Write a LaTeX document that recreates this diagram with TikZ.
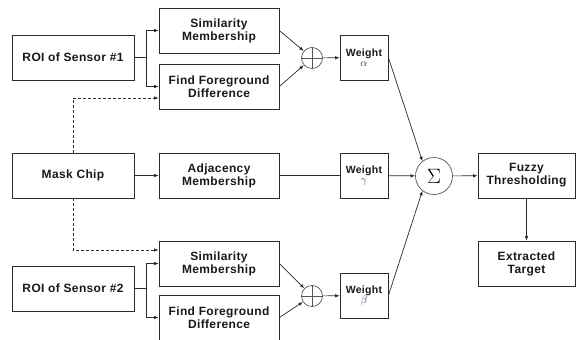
\documentclass[tikz,border=0pt]{standalone}
\usepackage{fontspec}
\setmainfont{Liberation Sans}[LetterSpace=3]
\usetikzlibrary{arrows.meta}
\definecolor{ln}{HTML}{2A2A2A}
\definecolor{cl}{HTML}{555555}
\definecolor{gkc}{HTML}{3A3A50}
\tikzset{
  box/.style={draw=ln, line width=0.8pt, minimum height=45pt, inner sep=1pt, align=center,
    font=\fontsize{12}{13}\selectfont\bfseries, text=black!90},
  bigbox/.style={box, minimum width=122pt},
  midbox/.style={box, minimum width=120pt},
  wbox/.style={box, minimum width=48pt, font=\fontsize{10.5}{11}\selectfont\bfseries},
  fbox/.style={box, minimum width=97pt},
  opl/.style={circle, draw=cl, line width=0.7pt, minimum size=21pt, inner sep=0pt},
  sg/.style={circle, draw=cl, line width=0.7pt, minimum size=37pt, inner sep=0pt},
  arr/.style={draw=ln, line width=0.7pt, -{Latex[length=4.5pt,width=3.5pt]}},
  ln/.style={draw=ln, line width=0.7pt},
  dsh/.style={arr, dashed, dash pattern=on 3pt off 2pt}
}
\newcommand{\gk}[1]{{\normalfont\fontsize{11}{11}\selectfont\color{gkc}$#1$}}
\begin{document}
\begin{tikzpicture}[x=1pt, y=-1pt]
\useasboundingbox (0,0) rectangle (581,340);
\node[bigbox] (roi1) at (73,57.5) {ROI of Sensor \#1};
\node[midbox] (sim1) at (219,30.5) {Similarity\\Membership};
\node[midbox] (ffg1) at (219,86.5) {Find Foreground\\Difference};
\node[bigbox] (mask) at (73,175.5) {Mask Chip};
\node[midbox] (adj) at (219,175.5) {Adjacency\\Membership};
\node[midbox] (sim2) at (219,263.5) {Similarity\\Membership};
\node[bigbox] (roi2) at (73,288.5) {ROI of Sensor \#2};
\node[midbox] (ffg2) at (219,317.5) {Find Foreground\\Difference};
\node[wbox] (wa) at (364,57.5) {Weight\\[-1pt]\gk{\alpha}};
\node[wbox] (wg) at (364,175.5) {Weight\\[-1pt]\gk{\gamma}};
\node[wbox] (wb) at (364,295.5) {Weight\\[-1pt]\gk{\beta}};
\node[opl] (op1) at (312,58) {};
\node[opl] (op2) at (312,296) {};
\draw[cl, line width=0.7pt] (op1.north) -- (op1.south) (op1.west) -- (op1.east);
\draw[cl, line width=0.7pt] (op2.north) -- (op2.south) (op2.west) -- (op2.east);
\node[sg] (sig) at (434,176) {\fontsize{21}{21}\selectfont$\Sigma$};
\node[fbox] (fuz) at (526.5,175.5) {Fuzzy\\Thresholding};
\node[fbox] (ext) at (526.5,263.5) {Extracted\\Target};
% sensor 1 branch
\draw[ln] (roi1.east) -- (146,57.5);
\draw[arr] (146,57.5) |- (sim1.west);
\draw[arr] (146,57.5) |- (ffg1.west);
% sensor 2 branch
\draw[ln] (roi2.east) -- (146,288.5);
\draw[arr] (146,288.5) |- (sim2.west);
\draw[arr] (146,288.5) |- (ffg2.west);
% mask chip
\draw[dsh] (mask.north) |- (ffg1.west |- 0,98);
\draw[dsh] (mask.south) |- (sim2.west |- 0,250);
\draw[arr] (mask) -- (adj);
\draw[ln] (adj) -- (wg);
% oplus
\draw[arr] (sim1.east) -- (op1);
\draw[arr] (ffg1.east) -- (op1);
\draw[arr] (sim2.east) -- (op2);
\draw[arr] (ffg2.east) -- (op2);
\draw[arr] (op1) -- (wa);
\draw[arr] (op2) -- (wb);
% weights to sigma
\draw[arr] (wa.east) -- (sig.128);
\draw[arr] (wg) -- (sig);
\draw[arr] (wb.east) -- (sig.232);
\draw[arr] (sig) -- (fuz);
\draw[arr] (fuz) -- (ext);
\end{tikzpicture}
\end{document}
